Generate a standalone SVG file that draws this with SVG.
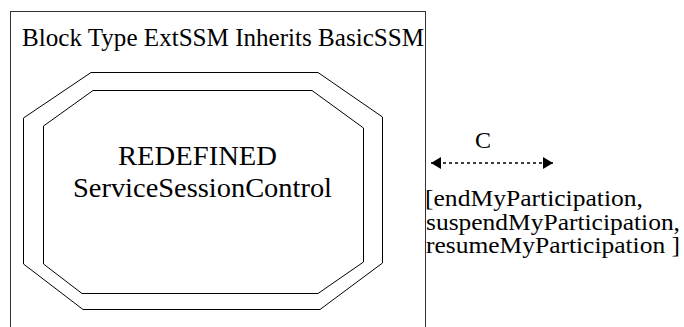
<svg xmlns="http://www.w3.org/2000/svg" width="684" height="327" viewBox="0 0 684 327">
<style>
.t{font-family:"Liberation Serif","Times New Roman",serif;fill:#000}
.ln{fill:none;stroke:#000;stroke-width:1}
</style>
<defs>
<marker id="ah" viewBox="0 0 10 12" refX="10" refY="6" markerWidth="10" markerHeight="12" markerUnits="userSpaceOnUse" orient="auto-start-reverse">
<path d="M0,0 L10,6 L0,12 Z" fill="#000"/>
</marker>
</defs>
<rect width="684" height="327" fill="#fff"/>
<g id="block">
<rect x="10.5" y="11.5" width="415" height="330" fill="none" stroke="#333" stroke-width="1"/>
<text class="t" x="22" y="46" font-size="25" textLength="402" lengthAdjust="spacingAndGlyphs">Block Type ExtSSM Inherits BasicSSM</text>
</g>
<g id="process">
<polygon class="ln" points="91,72.5 318,72.5 382.5,117 382.5,263 320,309.5 83,309.5 23.5,264 23.5,118"/>
<polygon class="ln" points="93,90.5 312,90.5 363.5,128 363.5,262 318,293.5 82,293.5 43.5,264 43.5,126"/>
<text class="t" x="118" y="165" font-size="28" textLength="159" lengthAdjust="spacingAndGlyphs">REDEFINED</text>
<text class="t" x="73" y="197" font-size="28" textLength="259" lengthAdjust="spacingAndGlyphs">ServiceSessionControl</text>
</g>
<g id="connectors">
<line x1="431" y1="163" x2="553" y2="163" stroke="#000" stroke-width="1.6" stroke-dasharray="3,3" marker-start="url(#ah)" marker-end="url(#ah)"/>
<text class="t" x="475" y="148" font-size="24">C</text>
<text class="t" x="425" y="206" font-size="23" textLength="218" lengthAdjust="spacingAndGlyphs">[endMyParticipation,</text>
<text class="t" x="426" y="229.5" font-size="23" textLength="254" lengthAdjust="spacingAndGlyphs">suspendMyParticipation,</text>
<text class="t" x="426" y="253" font-size="23" textLength="254" lengthAdjust="spacingAndGlyphs">resumeMyParticipation ]</text>
</g>
</svg>
